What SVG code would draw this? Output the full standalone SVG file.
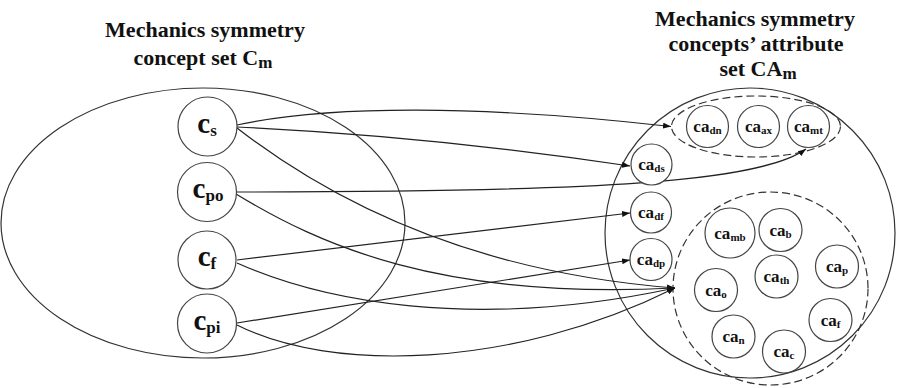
<svg xmlns="http://www.w3.org/2000/svg" width="899" height="388" viewBox="0 0 899 388">
<style>
.bg{fill:#fff}
.set{fill:none;stroke:#333;stroke-width:1.2}
.dash{fill:none;stroke:#333;stroke-width:1.2;stroke-dasharray:8,4}
.node{fill:#fff;stroke:#444;stroke-width:1.2}
.edge{fill:none;stroke:#222;stroke-width:1.2}
text{font-family:'Liberation Serif','Times New Roman',serif;font-weight:bold;fill:#111}
.title{font-size:22px}
.tsub{font-size:17px}
.cl{font-size:29px}
.csub{font-size:17px}
.cal{font-size:17px}
.casub{font-size:11px}
</style>
<defs>
<marker id="ah" markerWidth="8" markerHeight="6" refX="8" refY="3" orient="auto" markerUnits="userSpaceOnUse">
<path d="M0,0 L8,3 L0,6 z" fill="#111"/>
</marker>
</defs>
<rect class="bg" x="0" y="0" width="899" height="388"/>

<g id="title-left" font-family="Liberation Serif, serif">
<text class="title" x="205" y="37" text-anchor="middle">Mechanics symmetry</text>
<text class="title" x="203" y="65" text-anchor="middle">concept set C<tspan class="tsub" dy="3">m</tspan></text>
</g>
<g id="title-right" font-family="Liberation Serif, serif">
<text class="title" x="755" y="26" text-anchor="middle">Mechanics symmetry</text>
<text class="title" x="756" y="51" text-anchor="middle">concepts’ attribute</text>
<text class="title" x="758" y="76" text-anchor="middle">set CA<tspan class="tsub" dy="3">m</tspan></text>
</g>

<g id="set-Cm">
<ellipse class="set" cx="203" cy="223" rx="202" ry="135"/>
</g>
<g id="set-CAm">
<circle class="set" cx="750" cy="233" r="145"/>
</g>
<g id="group-upper">
<ellipse class="dash" cx="756" cy="126.5" rx="84.5" ry="30.5"/>
</g>
<g id="group-lower">
<ellipse class="dash" cx="770.5" cy="288.5" rx="97.5" ry="96.5"/>
</g>

<g id="edges">
<path class="edge" d="M237,125 C330,105 480,105 671,126.5" marker-end="url(#ah)"/>
<path class="edge" d="M237,127 Q430,136 630,166" marker-end="url(#ah)"/>
<path class="edge" d="M237,128 C330,200 470,272 675,288" marker-end="url(#ah)"/>
<path class="edge" d="M236,192 C600,192 760,182 806,149" marker-end="url(#ah)"/>
<path class="edge" d="M236,194 C320,245 440,300 675,288" marker-end="url(#ah)"/>
<path class="edge" d="M237,260 L630,213" marker-end="url(#ah)"/>
<path class="edge" d="M237,263 C320,300 470,332 675,288" marker-end="url(#ah)"/>
<path class="edge" d="M237,323 L630,260" marker-end="url(#ah)"/>
<path class="edge" d="M237,325 C330,372 510,370 675,288" marker-end="url(#ah)"/>
</g>

<g font-family="Liberation Serif, serif">
<g id="c_s"><circle class="node" cx="207.5" cy="126.5" r="29.5"/><text class="cl" x="207" y="133" text-anchor="middle">c<tspan class="csub" dy="3">s</tspan></text></g>
<g id="c_po"><circle class="node" cx="207" cy="192" r="29.5"/><text class="cl" x="208" y="198" text-anchor="middle">c<tspan class="csub" dy="3">po</tspan></text></g>
<g id="c_f"><circle class="node" cx="207" cy="260" r="29"/><text class="cl" x="207" y="266" text-anchor="middle">c<tspan class="csub" dy="3">f</tspan></text></g>
<g id="c_pi"><circle class="node" cx="207" cy="323.5" r="29.5"/><text class="cl" x="207" y="330" text-anchor="middle">c<tspan class="csub" dy="3">pi</tspan></text></g>

<g id="ca_dn"><circle class="node" cx="707.5" cy="126.5" r="21"/><text class="cal" x="707.5" y="132" text-anchor="middle">ca<tspan class="casub" dy="2">dn</tspan></text></g>
<g id="ca_ax"><circle class="node" cx="758.5" cy="126.5" r="21"/><text class="cal" x="758.5" y="132" text-anchor="middle">ca<tspan class="casub" dy="2">ax</tspan></text></g>
<g id="ca_mt"><circle class="node" cx="808.5" cy="126.5" r="21"/><text class="cal" x="808.5" y="132" text-anchor="middle">ca<tspan class="casub" dy="2">mt</tspan></text></g>
<g id="ca_ds"><circle class="node" cx="651.5" cy="164.5" r="20.5"/><text class="cal" x="651.5" y="170" text-anchor="middle">ca<tspan class="casub" dy="2">ds</tspan></text></g>
<g id="ca_df"><circle class="node" cx="651" cy="212.5" r="20.5"/><text class="cal" x="651" y="218" text-anchor="middle">ca<tspan class="casub" dy="2">df</tspan></text></g>
<g id="ca_dp"><circle class="node" cx="651" cy="259.5" r="21"/><text class="cal" x="651" y="265" text-anchor="middle">ca<tspan class="casub" dy="2">dp</tspan></text></g>

<g id="ca_mb"><circle class="node" cx="730" cy="233" r="25"/><text class="cal" x="730" y="238.5" text-anchor="middle">ca<tspan class="casub" dy="2">mb</tspan></text></g>
<g id="ca_b"><circle class="node" cx="780.5" cy="230" r="21.5"/><text class="cal" x="780.5" y="235.5" text-anchor="middle">ca<tspan class="casub" dy="2">b</tspan></text></g>
<g id="ca_p"><circle class="node" cx="837" cy="266.5" r="21.5"/><text class="cal" x="837" y="272" text-anchor="middle">ca<tspan class="casub" dy="2">p</tspan></text></g>
<g id="ca_th"><circle class="node" cx="776.5" cy="276.5" r="21.5"/><text class="cal" x="776.5" y="282" text-anchor="middle">ca<tspan class="casub" dy="2">th</tspan></text></g>
<g id="ca_o"><circle class="node" cx="716" cy="290" r="21.5"/><text class="cal" x="716" y="295.5" text-anchor="middle">ca<tspan class="casub" dy="2">o</tspan></text></g>
<g id="ca_f"><circle class="node" cx="830.5" cy="320" r="21.5"/><text class="cal" x="830.5" y="325.5" text-anchor="middle">ca<tspan class="casub" dy="2">f</tspan></text></g>
<g id="ca_n"><circle class="node" cx="733.5" cy="336.5" r="21.5"/><text class="cal" x="733.5" y="342" text-anchor="middle">ca<tspan class="casub" dy="2">n</tspan></text></g>
<g id="ca_c"><circle class="node" cx="784" cy="351.5" r="21.5"/><text class="cal" x="784" y="357" text-anchor="middle">ca<tspan class="casub" dy="2">c</tspan></text></g>
</g>
</svg>
